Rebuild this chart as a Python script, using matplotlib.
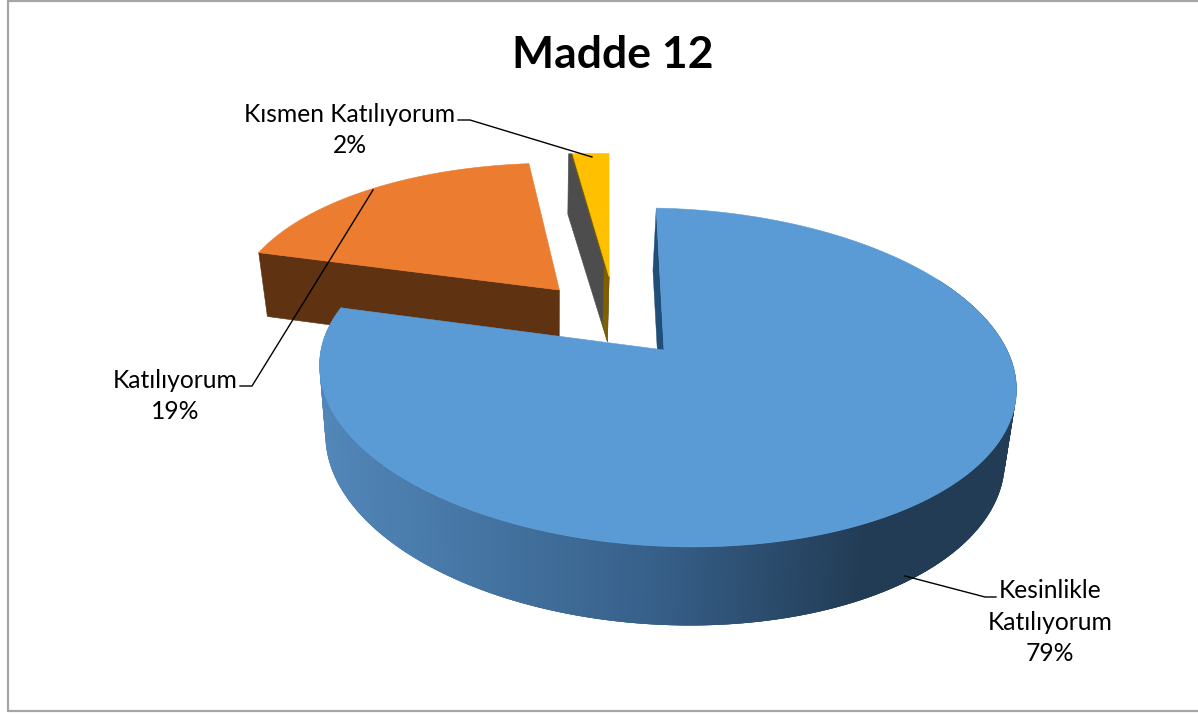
import numpy as np
import matplotlib
matplotlib.use("Agg")
import matplotlib.pyplot as plt
from matplotlib.patches import Polygon
from matplotlib.colors import LinearSegmentedColormap, Normalize

# ---- data
categories = ["Kesinlikle\nKatılıyorum", "Katılıyorum", "Kısmen Katılıyorum"]
values = [78.6, 19.3, 2.1]  # slice shares
title = "Madde 12"

# ---- style and layout (pixel space of the picture)
top_colors = ["#5B9BD5", "#EB7C30", "#FFC000"]
START_ANGLE = 2.5
explode = [(0.0, 0.0), (-0.297, 0.386), (-0.139, 0.4765)]
TOP = dict(cx=664.0, cy=350.0, a=343.0, b=165.0, k=0.162, s=-24.0)
BOT = dict(cx=661.0, cy=418.0, a=334.0, b=172.6, k=0.168, s=-24.0)
GREY_SPREAD = 4.0

plt.rcParams["font.family"] = ["Lato", "DejaVu Sans"]
fig = plt.figure(figsize=(11.98, 7.14), dpi=100)
ax = fig.add_axes([0, 0, 1, 1])
ax.set_xlim(0, 1198)
ax.set_ylim(714, 0)
ax.axis("off")


def project(u, v, p):
    """Perspective projection of pie-disc coordinates onto the picture."""
    u, v = np.asarray(u, float), np.asarray(v, float)
    d = 1 + p["k"] * v
    return p["cx"] + (p["a"] * u + p["s"] * v) / d, p["cy"] - p["b"] * v / d


def poly(xs, ys, color, z, lw=0.0):
    ax.add_patch(Polygon(np.column_stack([xs, ys]), closed=True, facecolor=color,
                         edgecolor=color, linewidth=lw, zorder=z))


def arc(a0, a1, off, n=240):
    t = np.radians(np.linspace(a0, a1, n))
    return off[0] + np.sin(t), off[1] + np.cos(t)


# angular extents from the values
total = sum(values)
edges = START_ANGLE + np.concatenate([[0], np.cumsum(values)]) * 360.0 / total
blue_a0, orange_a0, yellow_a0, end_a = edges

# ---- orange slice: cut face then top
off = explode[1]
u, v = arc(orange_a0, yellow_a0, off)
eu, ev = [off[0], u[0]], [off[1], v[0]]
x1, y1 = project(eu, ev, TOP)
x2, y2 = project(eu, ev, BOT)
poly([x1[0], x1[1], x2[1], x2[0]], [y1[0], y1[1], y2[1], y2[0]], "#5F3211", 2, 0.4)
x, y = project(np.r_[off[0], u], np.r_[off[1], v], TOP)
poly(x, y, top_colors[1], 3, 0.4)

# ---- yellow slice: cut face (grey with an olive band) then top
off = explode[2]
u, v = arc(yellow_a0, end_a, off, 40)
eu, ev = np.array([off[0], u[0]]), np.array([off[1], v[0]])
tx, ty = project(eu, ev, TOP)
bx, by = project(eu, ev, BOT)
poly([tx[0], tx[1], tx[1] - GREY_SPREAD, bx[1] - GREY_SPREAD, bx[0]],
     [ty[0], ty[1], ty[1], by[1], by[0]], "#4D4D4D", 2, 0.4)


def face(t, h):
    """Point on the cut face: t along the edge from the tip, h down the depth."""
    xa, ya = tx[0] + t * (tx[1] - tx[0]), ty[0] + t * (ty[1] - ty[0])
    xb, yb = bx[0] + t * (bx[1] - bx[0]), by[0] + t * (by[1] - by[0])
    return xa + h * (xb - xa), ya + h * (yb - ya)


band = [face(1, 0), face(0, 0), face(0, 1), face(0.13, 1), face(0.13, 0.06), face(1, 0.06)]
poly([b[0] for b in band], [b[1] for b in band], "#7F6000", 2.5, 0.3)
x, y = project(np.r_[off[0], u], np.r_[off[1], v], TOP)
poly(x, y, top_colors[2], 3, 0.4)

# ---- blue slice: cut face, shaded outer wall, top
off = explode[0]
eu, ev = project([0, np.sin(np.radians(blue_a0))], [0, np.cos(np.radians(blue_a0))], TOP)
bu, bv = project([0, np.sin(np.radians(blue_a0))], [0, np.cos(np.radians(blue_a0))], BOT)
poly([eu[0], eu[1], bu[1], bu[0]], [ev[0], ev[1], bv[1], bv[0]], "#1F4E79", 4, 0.3)

wall = LinearSegmentedColormap.from_list(
    "wall", [(0.0, "#5186B8"), (0.47, "#37608A"), (0.78, "#223C55"), (1.0, "#223C55")])
norm = Normalize(330, 1005)
wall_angles = np.arange(blue_a0 + 60, orange_a0 + 0.01, 0.5)
for a0, a1 in zip(wall_angles[:-1], wall_angles[1:]):
    u, v = arc(a0, a1 + 1.0, off, 4)
    x1, y1 = project(u, v, TOP)
    x2, y2 = project(u, v, BOT)
    poly(np.r_[x1, x2[::-1]], np.r_[y1, y2[::-1]], wall(norm(x2.mean())), 4, 0.0)

u, v = arc(blue_a0, orange_a0, off, 600)
x, y = project(np.r_[off[0], u], np.r_[off[1], v], TOP)
poly(x, y, top_colors[0], 5, 0.4)

# ---- chart frame (open on the right, as the picture is cropped there)
frame = "#A6A6A6"
ax.plot([1198, 8, 8, 1198], [1, 1, 711, 711], color=frame, lw=1.6, zorder=1,
        solid_joinstyle="miter")

# ---- title and data labels
ax.text(612.5, 55, title, ha="center", va="center", fontsize=32, fontweight="bold",
        color="black", zorder=8)

percent = [f"{val / total * 100:.0f}%" for val in values]
label_pos = [(1050, 622), (175, 396), (350, 130)]
for cat, pc, (lx, ly) in zip(categories, percent, label_pos):
    ax.text(lx, ly, f"{cat}\n{pc}", ha="center", va="center", fontsize=17.7,
            linespacing=1.46, color="black", zorder=8)

# ---- leader lines
leaders = [([905, 985, 996], [576, 597, 597]),
           ([373, 252, 240], [190, 386, 386]),
           ([592, 470, 458], [157, 120, 120])]
for lx, ly in leaders:
    ax.plot(lx, ly, color="black", lw=1.0, zorder=7)

fig.savefig("out.png", dpi=100)
